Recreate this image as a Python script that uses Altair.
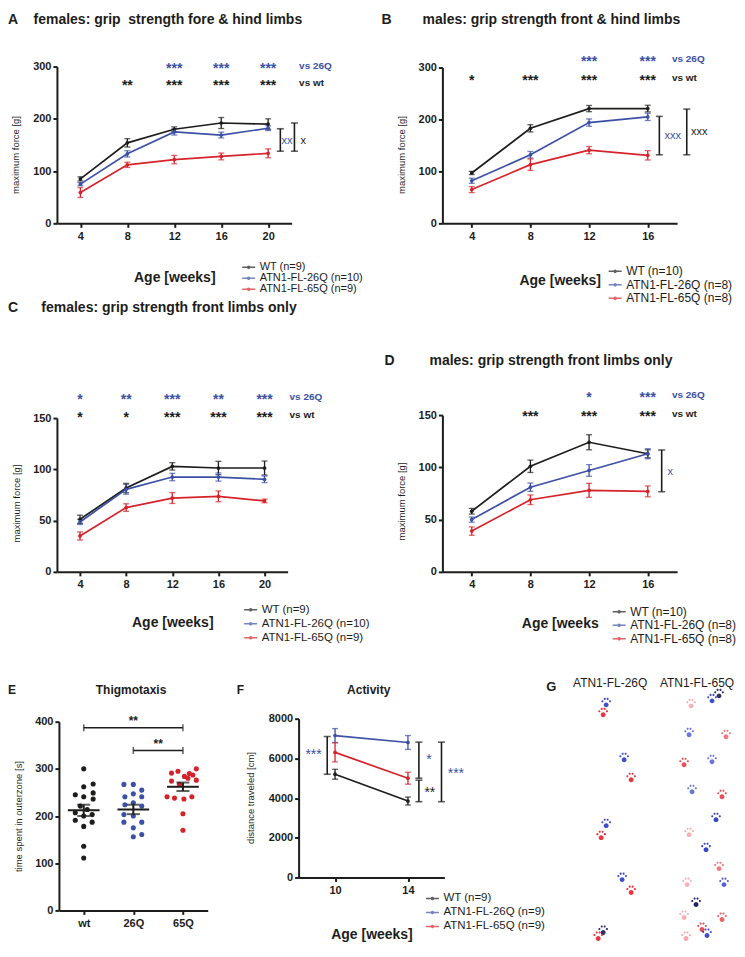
import altair as alt
import pandas as pd

FONT = "Liberation Sans"
BLACK = "#1d1d1b"
BLUE = "#3c51a5"
RED = "#d6232b"
COLORS = [BLACK, BLUE, RED]
VS_COLOR = {"26Q": BLUE, "wt": BLACK}
NB = "\u00a0"

# ---------------- Panel A ----------------
A_weeks = [4, 8, 12, 16, 20]
A_series = ["WT (n=9)", "ATN1-FL-26Q (n=10)", "ATN1-FL-65Q (n=9)"]
A_wt = [85, 154, 180, 192, 190]
A_wt_sem = [4, 8, 4.5, 10.5, 10]
A_q26 = [75, 133, 175, 169, 182]
A_q26_sem = [3, 6, 6, 5.5, 4.5]
A_q65 = [59, 112, 122, 128, 134]
A_q65_sem = [9.5, 5, 8, 6.5, 8.5]
A_stars_vs26 = ["", "", "***", "***", "***"]
A_stars_vswt = ["", "**", "***", "***", "***"]
A_star_rows = [302, 269]
A_vs_x = 22.64
A_bar_x = [21.04, 22.24]
A_bar_lo = [138, 138]
A_bar_hi = [181, 192]
A_bar_txt = ["xx", "x"]
A_bar_txt_x = [21.6, 23.0]
A_bar_txt_y = [158, 158]
A_bar_vs = ["26Q", "wt"]

# ---------------- Panel B ----------------
B_weeks = [4, 8, 12, 16]
B_series = ["WT (n=10)", "ATN1-FL-26Q (n=8)", "ATN1-FL-65Q (n=8)"]
B_wt = [97, 183, 221, 221]
B_wt_sem = [3, 7, 6, 6.4]
B_q26 = [82, 132, 194, 205]
B_q26_sem = [5, 6.4, 7, 7]
B_q65 = [65, 113, 141, 131]
B_q65_sem = [5.8, 11, 7, 9]
B_stars_vs26 = ["", "", "***", "***"]
B_stars_vswt = ["*", "***", "***", "***"]
B_star_rows = [316, 279]
B_vs_x = 17.65
B_bar_x = [16.79, 18.66]
B_bar_lo = [132, 132]
B_bar_hi = [206, 220]
B_bar_txt = ["xxx", "xxx"]
B_bar_txt_x = [17.71, 19.51]
B_bar_txt_y = [168, 176]
B_bar_vs = ["26Q", "wt"]

# ---------------- Panel C ----------------
C_weeks = [4, 8, 12, 16, 20]
C_series = ["WT (n=9)", "ATN1-FL-26Q (n=10)", "ATN1-FL-65Q (n=9)"]
C_wt = [51.3, 81.8, 102.9, 101.3, 101.3]
C_wt_sem = [4, 4.5, 3.6, 6.5, 6.8]
C_q26 = [48.7, 80.5, 92.5, 92.5, 90.3]
C_q26_sem = [2.5, 4.8, 3.6, 4, 3.2]
C_q65 = [35, 62.7, 72, 73.7, 69.2]
C_q65_sem = [4, 3.7, 5.3, 5.3, 1.8]
C_stars_vs26 = ["*", "**", "***", "**", "***"]
C_stars_vswt = ["*", "*", "***", "***", "***"]
C_star_rows = [171, 153]
C_vs_x = 22.17

# ---------------- Panel D ----------------
D_weeks = [4, 8, 12, 16]
D_series = ["WT (n=10)", "ATN1-FL-26Q (n=8)", "ATN1-FL-65Q (n=8)"]
D_wt = [58, 101, 124, 113]
D_wt_sem = [2.7, 5.9, 7.2, 3.8]
D_q26 = [50, 81, 97, 113]
D_q26_sem = [2.5, 4, 5.6, 4.8]
D_q65 = [39, 69, 78, 77]
D_q65_sem = [4, 4.6, 6.7, 5.2]
D_stars_vs26 = ["", "", "*", "***"]
D_stars_vswt = ["", "***", "***", "***"]
D_star_rows = [169, 151]
D_vs_x = 17.65
D_bar_x = [16.95]
D_bar_lo = [76.7]
D_bar_hi = [116.6]
D_bar_txt = ["x"]
D_bar_txt_x = [17.53]
D_bar_txt_y = [95.8]
D_bar_vs = ["26Q"]

# ---------------- Panel E (Thigmotaxis) ----------------
E_cats = ["wt", "26Q", "65Q"]
E_wt = [300, 268, 262, 245, 249, 241, 236, 221, 214, 207, 200, 203, 191, 187, 178, 136, 111]
E_wt_jit = [0, 0.19, 0, -0.17, 0.19, 0, 0.19, -0.07, 0.07, -0.17, 0, 0.17, -0.17, 0.17, 0, 0, 0]
E_q26 = [267, 267, 255, 241, 247, 241, 224, 228, 221, 203, 200, 187, 187, 175, 156, 161]
E_q26_jit = [-0.19, 0, 0.17, -0.17, 0, 0.17, -0.17, 0, 0.17, -0.19, 0, -0.19, 0.17, 0, 0, 0.17]
E_q65 = [300, 295, 291, 290, 284, 274, 267, 276, 287, 280, 241, 238, 236, 241, 205, 170]
E_q65_jit = [0.27, -0.1, -0.23, 0.13, 0.03, -0.23, -0.07, 0.27, 0.2, 0.1, -0.32, -0.17, 0.02, 0.18, 0, 0]
E_mean = [212, 214, 262]
E_sem = [12, 10, 9]
E_br_from = [0, 1]
E_br_to = [2, 2]
E_br_y = [387, 339]
E_br_txt = ["**", "**"]
E_br_txt_x = [1, 1.5]
E_br_txt_y = [408, 360]

# ---------------- Panel F (Activity) ----------------
F_weeks = [10, 14]
F_series = ["WT (n=9)", "ATN1-FL-26Q (n=9)", "ATN1-FL-65Q (n=9)"]
F_wt = [5200, 3850]
F_wt_sem = [250, 200]
F_q26 = [7150, 6800]
F_q26_sem = [350, 350]
F_q65 = [6300, 5000]
F_q65_sem = [480, 300]
F_bar_x = [9.57, 14.6, 14.6, 15.84]
F_bar_lo = [5200, 5000, 3817, 3817]
F_bar_hi = [7100, 6817, 4900, 6817]
F_bar_txt = ["***", "*", "**", "***"]
F_bar_txt_x = [8.82, 15.15, 15.2, 16.63]
F_bar_txt_y = [6300, 6050, 4400, 5350]
F_bar_vs = ["26Q", "26Q", "wt", "26Q"]

# ---------------- Panel G (footprints, image space) ----------------
G_heads = ["ATN1-FL-26Q", "ATN1-FL-65Q"]
G_head_x = [611, 698]
G_head_y = [683, 683]
G_px = [607, 604, 625, 632, 607, 602, 623, 632, 604, 599,
        692, 713, 720, 690, 727, 685, 713, 693, 723, 717, 690, 707,
        720, 725, 688, 697, 723, 685, 703, 708, 687]
G_py = [703, 713, 758, 778, 824, 836, 878, 891, 931, 937,
        704, 699, 694, 733, 735, 763, 760, 790, 795, 818, 833, 848,
        867, 883, 883, 903, 918, 916, 928, 934, 937]
G_paw = ["front", "hind", "front", "hind", "front", "hind", "front", "hind", "dark", "hind",
         "hind", "front", "dark", "front", "hind", "hind", "front", "front", "hind", "front", "hind", "front",
         "hind", "front", "hind", "dark", "hind", "hind", "hind", "front", "hind"]
G_ink = [0.9, 0.9, 0.9, 0.9, 0.9, 0.9, 0.9, 0.9, 0.9, 0.9,
         0.35, 0.9, 0.9, 0.7, 0.6, 0.8, 0.7, 0.7, 0.8, 0.95, 0.35, 0.95,
         0.6, 0.8, 0.35, 0.95, 0.7, 0.35, 0.8, 0.9, 0.4]


LEG_SYMBOL = "M-1.3,0L1.3,0M-0.2,0A0.2,0.2,0,1,0,0.2,0A0.2,0.2,0,1,0,-0.2,0Z"


def circ(cx, cy, r):
    return f"M{cx - r},{cy}A{r},{r},0,1,0,{cx + r},{cy}A{r},{r},0,1,0,{cx - r},{cy}Z"


PAW = (circ(0, 0.35, 0.4) + circ(-0.62, -0.22, 0.17) + circ(-0.24, -0.62, 0.17)
       + circ(0.24, -0.62, 0.17) + circ(0.62, -0.22, 0.17))


def ttl(text, dx, center_y, size=14):
    # empirical: title centre sits 17px above -offset
    return alt.TitleParams(text=text, anchor="start", frame="group", orient="top",
                           dx=dx, offset=-(center_y + 17), baseline="middle", font=FONT,
                           fontSize=size, fontWeight="bold", color=BLACK)


def legend(lx, ly, fs, rp):
    return alt.Legend(title=None, orient="none", legendX=lx, legendY=ly, direction="vertical",
                      symbolType=LEG_SYMBOL, symbolSize=100, symbolStrokeWidth=1.5, symbolOpacity=1,
                      labelFont=FONT, labelFontSize=fs, labelColor=BLACK, rowPadding=rp,
                      labelOffset=5, padding=0)


def text_layer(df, xs, ys, size, align="center", dy=0, weight="bold"):
    return alt.Chart(df).mark_text(font=FONT, fontSize=size, fontWeight=weight,
                                   align=align, baseline="middle", dy=dy).encode(
        x=xs("x:Q"), y=ys("y:Q"), text="t:N", color=alt.Color("hex:N", scale=None))


def line_panel(weeks, series, means, sems, xdom, xrng, ydom, yrng, yticks, ytitle,
               width, height, title, leg, xtitle, xtitle_y, ytitle_x, ytitle_y,
               stars=None, bars=None, bar_texts=None, bar_font=11):
    rows = []
    for s, vals, errs, col in zip(series, means, sems, COLORS):
        for w, v, e in zip(weeks, vals, errs):
            rows.append({"x": w, "y": v, "lo": v - e, "hi": v + e, "series": s, "hex": col})
    df = pd.DataFrame(rows)
    xsc = alt.Scale(domain=xdom, range=xrng, nice=False, zero=False)
    ysc = alt.Scale(domain=ydom, range=yrng, nice=False, zero=False)
    xax = alt.Axis(values=weeks, title=xtitle, titleY=xtitle_y, titleBaseline="middle",
                   offset=yrng[0] - height)
    yax = alt.Axis(values=yticks, title=ytitle, titleX=ytitle_x, titleY=ytitle_y,
                   titleBaseline="middle", offset=-xrng[0], format="d")

    def X(f):
        return alt.X(f, scale=xsc, axis=xax)

    def Y(f):
        return alt.Y(f, scale=ysc, axis=yax)

    layers = [
        alt.Chart(df).mark_errorbar(ticks={"size": 6}, thickness=1.3).encode(
            x=X("x:Q"), y=Y("lo:Q"), y2="hi:Q", color=alt.Color("hex:N", scale=None)),
        alt.Chart(df).mark_line(strokeWidth=1.7, point=alt.OverlayMarkDef(filled=True, size=14)).encode(
            x=X("x:Q"), y=Y("y:Q"),
            color=alt.Color("series:N", scale=alt.Scale(domain=series, range=COLORS), legend=leg)),
    ]
    if stars is not None:
        srows, vrows = [], []
        for texts, yv, vs in stars["rows"]:
            for w, t in zip(weeks, texts):
                if t:
                    srows.append({"x": w, "y": yv, "t": t, "hex": VS_COLOR[vs]})
            vrows.append({"x": stars["vs_x"], "y": yv, "t": "vs " + vs, "hex": VS_COLOR[vs]})
        layers.append(text_layer(pd.DataFrame(srows), X, Y, 14, dy=3))
        layers.append(text_layer(pd.DataFrame(vrows), X, Y, 10, align="left"))
    if bars is not None:
        bdf = pd.DataFrame({"x": bars[0], "lo": bars[1], "hi": bars[2]})
        layers.append(alt.Chart(bdf).mark_errorbar(ticks={"size": 7}, thickness=1.6, color=BLACK).encode(
            x=X("x:Q"), y=Y("lo:Q"), y2="hi:Q"))
        tdf = pd.DataFrame({"x": bar_texts[1], "y": bar_texts[2], "t": bar_texts[0],
                            "hex": [VS_COLOR[v] for v in bar_texts[3]]})
        layers.append(text_layer(tdf, X, Y, bar_font, weight="normal",
                                 dy=3 if bar_texts[0][0].startswith("*") else 0))
    return alt.layer(*layers).properties(width=width, height=height, title=title)


# grid: col1 x=57 (w 240), col2 x=297 (w 243), col3 x=540 (w 197)
# rows: row1 y=8 (h 215), row2 y=223 (h 349), row3 y=572 (h 339)
A = line_panel(A_weeks, A_series, [A_wt, A_q26, A_q65], [A_wt_sem, A_q26_sem, A_q65_sem],
               [2, 22], [0, 235], [0, 300], [215, 58], [0, 100, 200, 300], "maximum force [g]",
               240, 215, ttl("A" + NB * 4 + "females: grip" + NB * 2 + "strength fore & hind limbs", -49, 8),
               legend(186, 253, 11, 0), "Age [weeks]", 54, -41, 146,
               stars={"rows": [(A_stars_vs26, A_star_rows[0], "26Q"), (A_stars_vswt, A_star_rows[1], "wt")],
                      "vs_x": A_vs_x},
               bars=(A_bar_x, A_bar_lo, A_bar_hi),
               bar_texts=(A_bar_txt, A_bar_txt_x, A_bar_txt_y, A_bar_vs))

B = line_panel(B_weeks, B_series, [B_wt, B_q26, B_q65], [B_wt_sem, B_q26_sem, B_q65_sem],
               [2, 18], [146, 381], [0, 300], [215, 59], [0, 100, 200, 300], "maximum force [g]",
               243, 215, ttl("B" + NB * 8 + "males: grip strength front & hind limbs", 85, 8),
               legend(313, 257, 12, 1.5), "Age [weeks]", 57, -41, 146,
               stars={"rows": [(B_stars_vs26, B_star_rows[0], "26Q"), (B_stars_vswt, B_star_rows[1], "wt")],
                      "vs_x": B_vs_x},
               bars=(B_bar_x, B_bar_lo, B_bar_hi),
               bar_texts=(B_bar_txt, B_bar_txt_x, B_bar_txt_y, B_bar_vs))

C = line_panel(C_weeks, C_series, [C_wt, C_q26, C_q65], [C_wt_sem, C_q26_sem, C_q65_sem],
               [2, 22], [0, 231], [0, 150], [349, 195], [0, 50, 100, 150], "maximum force [g]",
               240, 349, ttl("C" + NB * 6 + "females: grip strength front limbs only", -49, 82),
               legend(188, 381, 11.5, 2), "Age [weeks]", 51, -40, 280,
               stars={"rows": [(C_stars_vs26, C_star_rows[0], "26Q"), (C_stars_vswt, C_star_rows[1], "wt")],
                      "vs_x": C_vs_x})

D = line_panel(D_weeks, D_series, [D_wt, D_q26, D_q65], [D_wt_sem, D_q26_sem, D_q65_sem],
               [2, 18], [146, 381], [0, 150], [349, 192], [0, 50, 100, 150], "maximum force [g]",
               243, 349, ttl("D" + NB * 9 + "males: grip strength front limbs only", 88, 135),
               legend(317, 383, 12, 1.5), "Age [weeks", 52, -41, 278,
               stars={"rows": [(D_stars_vs26, D_star_rows[0], "26Q"), (D_stars_vswt, D_star_rows[1], "wt")],
                      "vs_x": D_vs_x},
               bars=(D_bar_x, D_bar_lo, D_bar_hi),
               bar_texts=(D_bar_txt, D_bar_txt_x, D_bar_txt_y, D_bar_vs))

F = line_panel(F_weeks, F_series, [F_wt, F_q26, F_q65], [F_wt_sem, F_q26_sem, F_q65_sem],
               [8, 16], [2, 148], [0, 8000], [306, 147], [0, 2000, 4000, 6000, 8000],
               "distance traveled [cm]",
               243, 339, ttl("F" + NB * 31 + "Activity", -60, 113, 12),
               legend(130, 321, 11.5, 2), "Age [weeks]", 57, -48, 226,
               bars=(F_bar_x, F_bar_lo, F_bar_hi),
               bar_texts=(F_bar_txt, F_bar_txt_x, F_bar_txt_y, F_bar_vs), bar_font=14)

# ---------------- E ----------------
e_rows = []
for i, (vals, jit) in enumerate([(E_wt, E_wt_jit), (E_q26, E_q26_jit), (E_q65, E_q65_jit)]):
    for v, j in zip(vals, jit):
        e_rows.append({"x": i + j, "y": v, "hex": COLORS[i]})
e_pts = pd.DataFrame(e_rows)
e_mean = pd.DataFrame({"x": [0, 1, 2], "x1": [i - 0.32 for i in range(3)], "x2": [i + 0.32 for i in range(3)],
                       "y": E_mean, "lo": [m - s for m, s in zip(E_mean, E_sem)],
                       "hi": [m + s for m, s in zip(E_mean, E_sem)]})
e_br = pd.DataFrame({"x1": E_br_from, "x2": E_br_to, "y": E_br_y})
e_brt = pd.DataFrame({"x": E_br_txt_x, "y": E_br_txt_y, "t": E_br_txt, "hex": [BLACK, BLACK]})

e_xsc = alt.Scale(domain=[-0.5, 2.5], range=[2, 151], nice=False, zero=False)
e_ysc = alt.Scale(domain=[0, 400], range=[339, 150], nice=False, zero=False)
e_xax = alt.Axis(values=[0, 1, 2], title=None,
                 labelExpr="[" + ",".join("'" + c + "'" for c in E_cats) + "][datum.value]")
e_yax = alt.Axis(values=[0, 100, 200, 300, 400], title="time spent in outerzone [s]", titleX=-40,
                 titleBaseline="middle", offset=-2)


def EX(f):
    return alt.X(f, scale=e_xsc, axis=e_xax)


def EY(f):
    return alt.Y(f, scale=e_ysc, axis=e_yax)


E = alt.layer(
    alt.Chart(e_pts).mark_circle(size=26, opacity=1).encode(
        x=EX("x:Q"), y=EY("y:Q"), color=alt.Color("hex:N", scale=None)),
    alt.Chart(e_mean).mark_rule(strokeWidth=2, color=BLACK).encode(x=EX("x1:Q"), x2="x2:Q", y=EY("y:Q")),
    alt.Chart(e_mean).mark_errorbar(ticks={"size": 13}, thickness=2, color=BLACK).encode(
        x=EX("x:Q"), y=EY("lo:Q"), y2="hi:Q"),
    alt.Chart(e_br).mark_errorbar(ticks={"size": 7}, thickness=1.5, color=BLACK).encode(
        x=EX("x1:Q"), x2="x2:Q", y=EY("y:Q")),
    text_layer(e_brt, EX, EY, 12, dy=3),
).properties(width=240, height=339, title=ttl("E" + NB * 24 + "Thigmotaxis", -49, 113, 12))

# ---------------- G ----------------
g_df = pd.DataFrame({"x": G_px, "y": G_py, "paw": G_paw, "ink": G_ink})
g_head = pd.DataFrame({"x": G_head_x, "y": G_head_y, "t": G_heads})
g_xsc = alt.Scale(domain=[540, 737], range=[0, 197], nice=False, zero=False)
g_ysc = alt.Scale(domain=[572, 911], range=[0, 339], nice=False, zero=False)
G = alt.layer(
    alt.Chart(g_df).mark_point(shape=PAW, filled=True, size=150, strokeWidth=0).encode(
        x=alt.X("x:Q", scale=g_xsc, axis=None), y=alt.Y("y:Q", scale=g_ysc, axis=None),
        color=alt.Color("paw:N", scale=alt.Scale(domain=["front", "hind", "dark"],
                                                 range=["#2a3cc4", "#e3202a", "#18185a"]), legend=None),
        opacity=alt.Opacity("ink:Q", scale=None)),
    alt.Chart(g_head).mark_text(font=FONT, fontSize=12, color=BLACK, baseline="middle").encode(
        x=alt.X("x:Q", scale=g_xsc, axis=None), y=alt.Y("y:Q", scale=g_ysc, axis=None), text="t:N"),
).properties(width=197, height=339, title=ttl("G", 7, 111, 13))


def filler(h):
    return alt.Chart(pd.DataFrame({"v": [0]})).mark_point(opacity=0).encode(
        x=alt.X("v:Q", axis=None), y=alt.Y("v:Q", axis=None)).properties(width=197, height=h)


chart = alt.concat(
    A, B, filler(215), C, D, filler(349), E, F, G,
    columns=3, spacing=0, bounds="flush", align="each",
).resolve_scale(color="independent").resolve_legend(color="independent").properties(
    padding={"left": 0, "right": 0, "top": 0, "bottom": 0}
).configure_view(stroke=None).configure_axis(
    domainColor=BLACK, domainWidth=2, tickColor=BLACK, tickWidth=2, tickSize=4,
    labelFont=FONT, labelFontSize=11, labelFontWeight="bold", labelColor=BLACK,
    titleFont=FONT, titleColor=BLACK, grid=False, labelFlush=False, labelOverlap=False,
).configure_axisX(labelPadding=3, titleFontSize=14, titleFontWeight="bold").configure_axisY(
    labelPadding=2, titleFontSize=9.5, titleFontWeight="normal"
).configure_legend(labelFont=FONT, labelColor=BLACK)

chart.save("out.html", embed_options={"renderer": "svg", "actions": False})
